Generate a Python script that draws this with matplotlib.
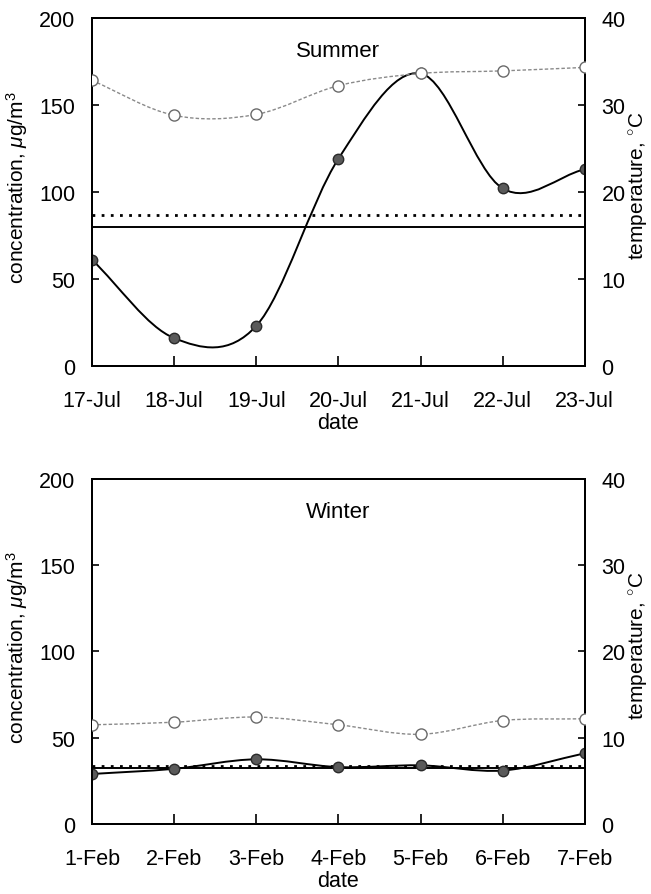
import matplotlib
matplotlib.use("Agg")
import numpy as np
import matplotlib.pyplot as plt
from matplotlib.path import Path
from matplotlib.patches import PathPatch

plt.rcParams['font.family'] = ['Liberation Sans', 'DejaVu Sans']
plt.rcParams['mathtext.fontset'] = 'custom'
plt.rcParams['mathtext.it'] = 'Liberation Sans:italic'
plt.rcParams['mathtext.rm'] = 'Liberation Sans'

# data
summer_dates = ['17-Jul', '18-Jul', '19-Jul', '20-Jul', '21-Jul', '22-Jul', '23-Jul']
summer_conc = [61, 16, 23, 119, 168, 102, 113]
summer_temp = [32.8, 28.8, 28.9, 32.2, 33.6, 33.9, 34.3]
summer_solid = 80
summer_dotted = 87

winter_dates = ['1-Feb', '2-Feb', '3-Feb', '4-Feb', '5-Feb', '6-Feb', '7-Feb']
winter_conc = [29, 32, 37.5, 33, 34, 31, 41]
winter_temp = [11.5, 11.8, 12.4, 11.5, 10.4, 12.0, 12.2]
winter_solid = 32.5
winter_dotted = 33.6


# smooth curve through the points (cubic bezier, catmull-rom style tangents)
def smooth_path(x, y):
    x = np.asarray(x, float)
    y = np.asarray(y, float)
    n = len(x)
    mx = np.zeros(n)
    my = np.zeros(n)
    for i in range(n):
        a = max(i - 1, 0)
        b = min(i + 1, n - 1)
        mx[i] = (x[b] - x[a]) / (b - a)
        my[i] = (y[b] - y[a]) / (b - a)
    verts = [(x[0], y[0])]
    codes = [Path.MOVETO]
    for i in range(n - 1):
        verts += [(x[i] + mx[i] / 3, y[i] + my[i] / 3),
                  (x[i + 1] - mx[i + 1] / 3, y[i + 1] - my[i + 1] / 3),
                  (x[i + 1], y[i + 1])]
        codes += [Path.CURVE4] * 3
    return Path(verts, codes)


def panel(rect, dates, conc, temp, solid, dotted, title, fig):
    ax = fig.add_axes(rect)
    x = np.arange(len(dates))
    ax.axhline(solid, color='black', lw=1.4, zorder=2)
    ax.axhline(dotted, color='black', lw=2.0, ls=(0, (1, 2.3)), zorder=2)
    ax.add_patch(PathPatch(smooth_path(x, conc), fc='none', ec='black', lw=1.4, zorder=3))
    ax.plot(x, conc, 'o', ms=7.5, mfc='#5a5a5a', mec='#2a2a2a', mew=1, zorder=4)
    ax.set_xlim(0, 6)
    ax.set_ylim(0, 200)
    ax.set_xticks(x)
    ax.set_xticklabels(dates)
    ax.set_yticks([0, 50, 100, 150, 200])
    ax.tick_params(axis='x', direction='in', length=7, width=1.2, pad=17, labelsize=15.5)
    ax.tick_params(axis='y', direction='in', length=5, width=1.2, pad=12, labelsize=15.5)
    ax.set_xlabel('date', fontsize=15.5, labelpad=1)
    ax.set_ylabel('concentration, $\\mathit{\\mu}$g/m$^3$', fontsize=15)
    ax.yaxis.set_label_coords(-0.126, 0.514)
    ax.text(3, 181, title, ha='center', va='center', fontsize=16)
    for s in ax.spines.values():
        s.set_linewidth(1.4)

    ax2 = ax.twinx()
    ax2.add_patch(PathPatch(smooth_path(x, temp), fc='none', ec='#8a8a8a', lw=1.0,
                            ls=(0, (2.5, 1.5)), zorder=3))
    ax2.plot(x, temp, 'o', ms=8, mfc='white', mec='#6a6a6a', mew=1, zorder=4)
    ax2.set_ylim(0, 40)
    ax2.set_yticks([0, 10, 20, 30, 40])
    ax2.tick_params(axis='y', direction='in', length=5, width=1.2, pad=12, labelsize=15.5)
    ax2.set_ylabel('temperature, $^{\\circ}$C', fontsize=15, rotation=90)
    ax2.yaxis.set_label_coords(1.086, 0.52)
    for s in ax2.spines.values():
        s.set_linewidth(1.4)
    return ax, ax2


fig = plt.figure(figsize=(6.51, 8.95), dpi=100)
panel([0.1413, 0.590, 0.757, 0.389], summer_dates, summer_conc, summer_temp,
      summer_solid, summer_dotted, 'Summer', fig)
panel([0.1413, 0.0782, 0.757, 0.3855], winter_dates, winter_conc, winter_temp,
      winter_solid, winter_dotted, 'Winter', fig)

fig.savefig('out.png', dpi=100)
